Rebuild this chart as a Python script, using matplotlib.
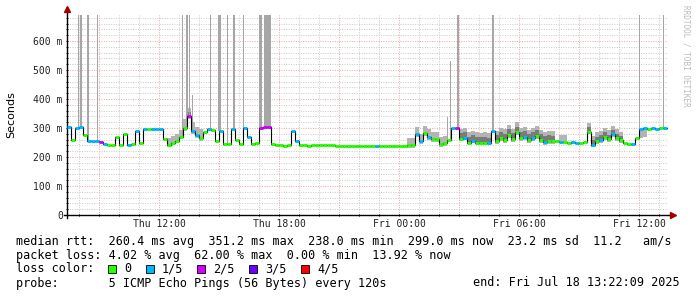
import numpy as np
import matplotlib
matplotlib.use("Agg")
import matplotlib.pyplot as plt
from matplotlib.collections import LineCollection
from matplotlib.patches import Rectangle

# median rtt (ms), one sample every 12 min, first sample Thu 07:24
start_h = 7.4
step_h = 0.2
median_ms = [
    302, 260, 300, 305, 275, 255, 255, 255, 253, 244,
    240, 240, 268, 242, 280, 242, 245, 290, 250, 297,
    296, 297, 297, 296, 262, 240, 248, 255, 268, 300,
    340, 290, 275, 265, 285, 297, 293, 255, 290, 245,
    244, 298, 260, 245, 300, 268, 244, 250, 300, 303,
    302, 244, 241, 240, 239, 240, 290, 255, 240, 240,
    239, 241, 241, 241, 240, 240, 240, 239, 239, 239,
    239, 239, 239, 239, 239, 239, 239, 239, 239, 239,
    239, 239, 239, 239, 239, 240, 240, 280, 255, 283,
    270, 262, 262, 245, 247, 260, 300, 300, 262, 265,
    250, 255, 250, 248, 250, 247, 290, 255, 265, 260,
    275, 262, 285, 265, 270, 258, 265, 272, 258, 252,
    255, 254, 255, 252, 252, 250, 251, 250, 250, 252,
    288, 243, 255, 260, 270, 262, 278, 265, 258, 247,
    245, 246, 265, 295, 299, 298, 300, 298, 299, 300,
]
# lost pings out of 5 for each sample
loss = [
    1, 0, 1, 1, 0, 1, 1, 1, 2, 1,
    0, 0, 0, 0, 0, 1, 0, 1, 0, 1,
    0, 1, 1, 1, 0, 0, 0, 0, 0, 0,
    2, 1, 1, 0, 0, 1, 0, 0, 1, 0,
    0, 1, 0, 0, 1, 1, 0, 0, 2, 2,
    2, 0, 0, 0, 0, 0, 1, 1, 0, 0,
    0, 0, 0, 0, 0, 0, 0, 0, 0, 0,
    0, 0, 0, 0, 0, 0, 0, 1, 0, 0,
    0, 0, 0, 0, 0, 0, 0, 1, 1, 0,
    1, 0, 0, 0, 0, 0, 1, 2, 0, 1,
    0, 1, 0, 0, 0, 1, 1, 0, 0, 0,
    0, 0, 0, 0, 1, 0, 1, 0, 0, 1,
    0, 0, 0, 1, 0, 0, 1, 1, 0, 0,
    0, 1, 0, 1, 0, 0, 1, 0, 0, 0,
    0, 1, 0, 1, 1, 0, 1, 1, 0, 1,
]
loss_labels = ["0", "1/5", "2/5", "3/5", "4/5"]
loss_colors = ["#26ff00", "#00b8ff", "#d400ff", "#6a00ff", "#ff0000"]

# smoke around the median (ms below / above), hours since Thu 00:00
smoke_light_start = [12.3, 13.2, 24.4, 26.9, 28.7, 31.9, 33.4, 36.0]
smoke_light_end = [13.2, 14.3, 26.4, 28.6, 31.9, 32.5, 35.2, 36.4]
smoke_light_down = [5, 10, 10, 5, 10, 5, 10, 30]
smoke_light_up = [25, 30, 25, 35, 35, 25, 30, 0]
smoke_dark_start = [13.3, 27.0, 28.7, 33.4]
smoke_dark_end = [13.7, 28.6, 31.9, 35.2]
smoke_dark_down = [5, 3, 5, 5]
smoke_dark_up = [15, 20, 20, 15]

# single pings far above the median (timeouts go off the top)
spike_h = [7.95, 8.1, 8.45, 8.95, 13.2, 13.375, 13.5, 13.65, 14.55, 15.025, 15.4,
           15.725, 16.2, 17.075, 17.4, 26.4, 26.55, 26.925, 28.7, 36.0, 37.2]
spike_top = [2000, 2000, 2000, 2000, 2000, 2000, 2000, 413, 2000, 2000, 2000,
             2000, 2000, 2000, 2000, 338, 531, 2000, 2000, 2000, 2000]
spike_px = [1, 2, 3, 1, 1, 2, 1, 1, 1, 3, 1, 2, 1, 3, 7, 1, 1, 2, 2, 1, 1]

stats = [
    "median rtt:  260.4 ms avg  351.2 ms max  238.0 ms min  299.0 ms now  23.2 ms sd  11.2   am/s",
    "packet loss: 4.02 % avg  62.00 % max  0.00 % min  13.92 % now",
]
probe = "probe:       5 ICMP Echo Pings (56 Bytes) every 120s"
end_text = "end: Fri Jul 18 13:22:09 2025"

W, H = 697, 297
fig = plt.figure(figsize=(W / 100, H / 100), dpi=100)
ax = fig.add_axes([67 / W, 82 / H, 601 / W, 200 / H])
x0, x1 = 7.4, 37.45
ax.set_xlim(x0, x1)
ax.set_ylim(0, 690)
px_h = (x1 - x0) / 601

# grid
for h in np.arange(8, 38, 1):
    if h % 3:
        ax.axvline(h, color="#c8c8c8", lw=0.7, ls=(0, (1, 1.5)), zorder=0)
for v in np.arange(20, 690, 20):
    if v % 100:
        ax.axhline(v, color="#c8c8c8", lw=0.7, ls=(0, (1, 1.5)), zorder=0)
for h in np.arange(9, 38, 3):
    ax.axvline(h, color="#f0a0a0", lw=0.7, ls=(0, (1, 1.5)), zorder=0.5)
for v in range(100, 700, 100):
    ax.axhline(v, color="#f0a0a0", lw=0.7, ls=(0, (1, 1.5)), zorder=0.5)

t = start_h + step_h * np.arange(len(median_ms))
med = np.array(median_ms, dtype=float)
tt = np.append(t, t[-1] + step_h)
mm = np.append(med, med[-1])


def smoke(starts, ends, down, up, color, z):
    for a, b, d, u in zip(starts, ends, down, up):
        sel = (tt >= a - 1e-9) & (tt <= b + 1e-9)
        ax.fill_between(tt, mm - d, mm + u, where=sel, step="post",
                        color=color, lw=0, zorder=z)


smoke(smoke_light_start, smoke_light_end, smoke_light_down, smoke_light_up, "#b4b4b4", 1)
smoke(smoke_dark_start, smoke_dark_end, smoke_dark_down, smoke_dark_up, "#7a7a7a", 1.1)

idx = np.clip(((np.array(spike_h) - start_h) / step_h).astype(int), 0, len(med) - 1)
base = med[idx]
ax.bar(spike_h, np.array(spike_top) - base, bottom=base,
       width=np.array(spike_px) * px_h, color="#a6a6a6", lw=0, zorder=1.2)

ax.step(tt, mm, where="post", color="black", lw=0.8, zorder=2)
segs = [[(ti, m), (ti + step_h, m)] for ti, m in zip(t, med)]
ax.add_collection(LineCollection(segs, colors=[loss_colors[k] for k in loss],
                                 linewidths=2.1, capstyle="butt", zorder=3))

# axes look
for s in ax.spines.values():
    s.set_visible(False)
ax.plot([0, 0], [-0.015, 1.03], transform=ax.transAxes, color="black", lw=1, clip_on=False)
ax.plot([-0.005, 1.006], [0, 0], transform=ax.transAxes, color="black", lw=1, clip_on=False)
ax.plot([0], [1.03], marker="^", ms=4, color="#a00000", transform=ax.transAxes, clip_on=False)
ax.plot([1.008], [0], marker=">", ms=4, color="#a00000", transform=ax.transAxes, clip_on=False)

mono = "DejaVu Sans Mono"
ax.set_xticks([12, 18, 24, 30, 36])
ax.set_xticklabels(["Thu 12:00", "Thu 18:00", "Fri 00:00", "Fri 06:00", "Fri 12:00"],
                   family=mono, fontsize=7, color="#222222")
ax.set_xticks(np.arange(8, 38, 1), minor=True)
ax.set_yticks(range(0, 700, 100))
ax.set_yticklabels(["0"] + [f"{v} m" for v in range(100, 700, 100)],
                   family=mono, fontsize=7, color="#222222")
ax.set_yticks(np.arange(20, 690, 20), minor=True)
ax.tick_params(which="both", length=2, width=0.7, direction="inout", pad=2)
ax.tick_params(which="minor", length=1)
ax.set_ylabel("Seconds", fontsize=8, family="DejaVu Sans")
ax.yaxis.set_label_coords(-(67 - 16) / 601, 0.5)

fig.text(686 / W, 1 - 5 / H, "RRDTOOL / TOBI OETIKER", rotation=-90, ha="center", va="top",
         family=mono, fontsize=5.5, color="#bbbbbb")

fs = 8.5
fig.text(16 / W, 1 - 241 / H, stats[0], family=mono, fontsize=fs, va="center")
fig.text(16 / W, 1 - 255 / H, stats[1], family=mono, fontsize=fs, va="center")
fig.text(16 / W, 1 - 269 / H, "loss color:", family=mono, fontsize=fs, va="center")
bx = 108
for lab, col in zip(loss_labels, loss_colors):
    fig.patches.append(Rectangle((bx / W, 1 - 273 / H), 8 / W, 8 / H, transform=fig.transFigure,
                                 facecolor=col, edgecolor="black", lw=0.6))
    fig.text((bx + 16) / W, 1 - 269 / H, lab, family=mono, fontsize=fs, va="center")
    bx += 16 + len(lab) * 7.09 + 14.5
fig.text(16 / W, 1 - 283 / H, probe, family=mono, fontsize=fs, va="center")
fig.text(680 / W, 1 - 283 / H, end_text, family=mono, fontsize=fs, va="center", ha="right")

fig.savefig("out.png", dpi=100)
